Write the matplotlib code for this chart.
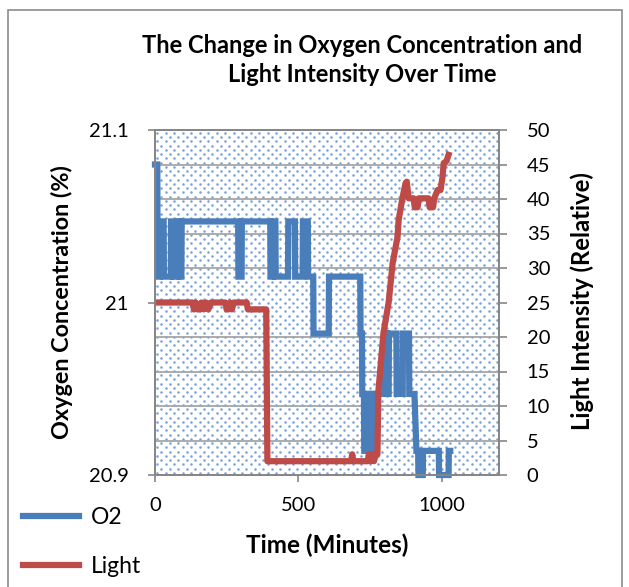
import matplotlib
matplotlib.use('Agg')
import matplotlib.pyplot as plt
import numpy as np
from matplotlib.patches import Rectangle
from matplotlib.lines import Line2D

plt.rcParams['font.family'] = ['Lato', 'DejaVu Sans']

# datos
o2_time = [0, 8, 9, 16, 17, 30, 31, 55, 56, 64, 65, 80, 81, 86, 87, 92, 93,
           290, 291, 302, 303, 402, 403, 411, 412, 420, 421, 464, 465, 488,
           489, 515, 516, 533, 534, 552, 553, 606, 607, 716, 717, 722, 723,
           729, 730, 738, 739, 746, 747, 752, 753, 760, 761, 768, 769, 800,
           801, 808, 809, 815, 816, 842, 843, 864, 865, 886, 887, 905, 912,
           918, 919, 934, 935, 990, 991, 1024, 1025, 1030]
o2_value = [21.080, 21.080, 21.015, 21.015, 21.047, 21.047, 21.015, 21.015,
            21.047, 21.047, 21.015, 21.015, 21.047, 21.047, 21.015, 21.015,
            21.047, 21.047, 21.015, 21.015, 21.047, 21.047, 21.015, 21.015,
            21.047, 21.047, 21.015, 21.015, 21.047, 21.047, 21.015, 21.015,
            21.047, 21.047, 21.015, 21.015, 20.982, 20.982, 21.015, 21.015,
            20.982, 20.982, 20.947, 20.947, 20.914, 20.914, 20.947, 20.947,
            20.914, 20.914, 20.947, 20.947, 20.914, 20.914, 20.947, 20.947,
            20.982, 20.982, 20.947, 20.947, 20.982, 20.982, 20.947, 20.947,
            20.982, 20.982, 20.947, 20.947, 20.914, 20.914, 20.900, 20.900,
            20.914, 20.914, 20.900, 20.900, 20.914, 20.914]

light_time = [0, 130, 136, 142, 148, 155, 162, 170, 178, 186,
              195, 200, 245, 250, 256, 262, 268, 275, 285, 320,
              324, 388, 392, 684, 688, 692, 742, 746, 752, 758,
              764, 770, 776, 779, 797, 815, 829, 846, 850, 864,
              874, 878, 885, 902, 906, 916, 920, 930, 954, 958,
              970, 974, 986, 996, 1003, 1007, 1017, 1024]
light_value = [25, 25, 24, 25, 24, 24, 25, 24, 25, 24,
               25, 25, 25, 24, 24, 25, 24, 25, 25, 25,
               24, 24, 2, 2, 3, 2, 2, 3, 2, 3,
               2, 3, 3, 12, 20.6, 25, 30.7, 34.5, 37, 40.3,
               42.3, 42.5, 40.1, 40.1, 38.8, 38.8, 40.1, 40.1, 40.1, 38.8,
               38.8, 40.1, 41.3, 41.3, 43.2, 45.2, 45.5, 46.4]

o2_ticks = [20.9, 21.0, 21.1]
o2_labels = ['20.9', '21', '21.1']
light_ticks = list(range(0, 51, 5))
time_ticks = [0, 500, 1000]

azul = '#4A7EBB'
rojo = '#BE4B48'
gris = '#A6A6A6'
tam = 14.5

fig = plt.figure(figsize=(6.29, 5.87), dpi=100)

# marco exterior del grafico
fig.patches.append(Rectangle((8 / 629, -0.05), 614 / 629, 1.05 - 10 / 587,
                             transform=fig.transFigure, fill=False,
                             edgecolor='#8C8C8C', linewidth=1.2))

ax = fig.add_axes([155 / 629, 1 - 475 / 587, 344 / 629, 345 / 587])
ax2 = ax.twinx()

# fondo punteado (patron 5% de Excel: puntos alternados)
paso_x, paso_y = 8.5 / 344, 4.25 / 345
puntos_x, puntos_y = [], []
for i, y in enumerate(np.arange(paso_y / 2, 1, paso_y)):
    inicio = paso_x / 4 if i % 2 == 0 else paso_x * 3 / 4
    for x in np.arange(inicio, 1, paso_x):
        puntos_x.append(x)
        puntos_y.append(y)
ax.scatter(puntos_x, puntos_y, s=3.3, color='#76A0D8', linewidths=0,
           transform=ax.transAxes, zorder=0.2)

ax.set_xlim(0, 1200)
ax.set_ylim(20.9, 21.1)
ax2.set_ylim(0, 50)

# lineas de cuadricula cada 5 unidades de luz
ax.set_yticks(np.linspace(20.9, 21.1, 11), minor=True)
ax.grid(True, which='minor', axis='y', color=gris, linewidth=1.3, zorder=0.5)
ax.set_axisbelow(True)

ax.plot(o2_time, o2_value, color=azul, linewidth=4.5, clip_on=False,
        solid_joinstyle='miter', zorder=2)
ax2.plot(light_time, light_value, color=rojo, linewidth=4.5,
         solid_joinstyle='round', zorder=2)

ax.set_yticks(o2_ticks)
ax.set_yticklabels(o2_labels)
ax.set_xticks(time_ticks)
ax2.set_yticks(light_ticks)

ax.tick_params(axis='y', which='major', direction='inout', length=10,
               color='#868686', width=1.2, labelsize=tam, pad=14)
ax.tick_params(axis='y', which='minor', length=0)
ax.tick_params(axis='x', direction='out', length=5, color='#868686',
               width=1.2, labelsize=tam, pad=11)
ax2.tick_params(axis='y', direction='out', length=6, color='#868686',
                width=1.2, labelsize=tam, pad=14)

for a in (ax, ax2):
    for s in a.spines.values():
        s.set_color('#868686')
        s.set_linewidth(1.3)

fig.text(362 / 629, 1 - 60 / 587,
         'The Change in Oxygen Concentration and\nLight Intensity Over Time',
         ha='center', va='center', fontsize=17, fontweight='bold',
         linespacing=1.35)
fig.text(62 / 629, 1 - 302 / 587, 'Oxygen Concentration (%)', rotation=90,
         ha='center', va='center', fontsize=16.8, fontweight='bold')
fig.text(582 / 629, 1 - 301 / 587, 'Light Intensity (Relative)', rotation=90,
         ha='center', va='center', fontsize=17.2, fontweight='bold')
fig.text(327 / 629, 1 - 545 / 587, 'Time (Minutes)', ha='center',
         va='center', fontsize=17.5, fontweight='bold')

handles = [Line2D([], [], color=azul, linewidth=4.5),
           Line2D([], [], color=rojo, linewidth=4.5)]
fig.legend(handles, ['O2', 'Light'], loc='upper left',
           bbox_to_anchor=(14 / 629, 1 - 498 / 587), frameon=False,
           fontsize=16.5, handlelength=2.45, labelspacing=1.2,
           handletextpad=0.5, borderaxespad=0)

fig.savefig('out.png', dpi=100)
